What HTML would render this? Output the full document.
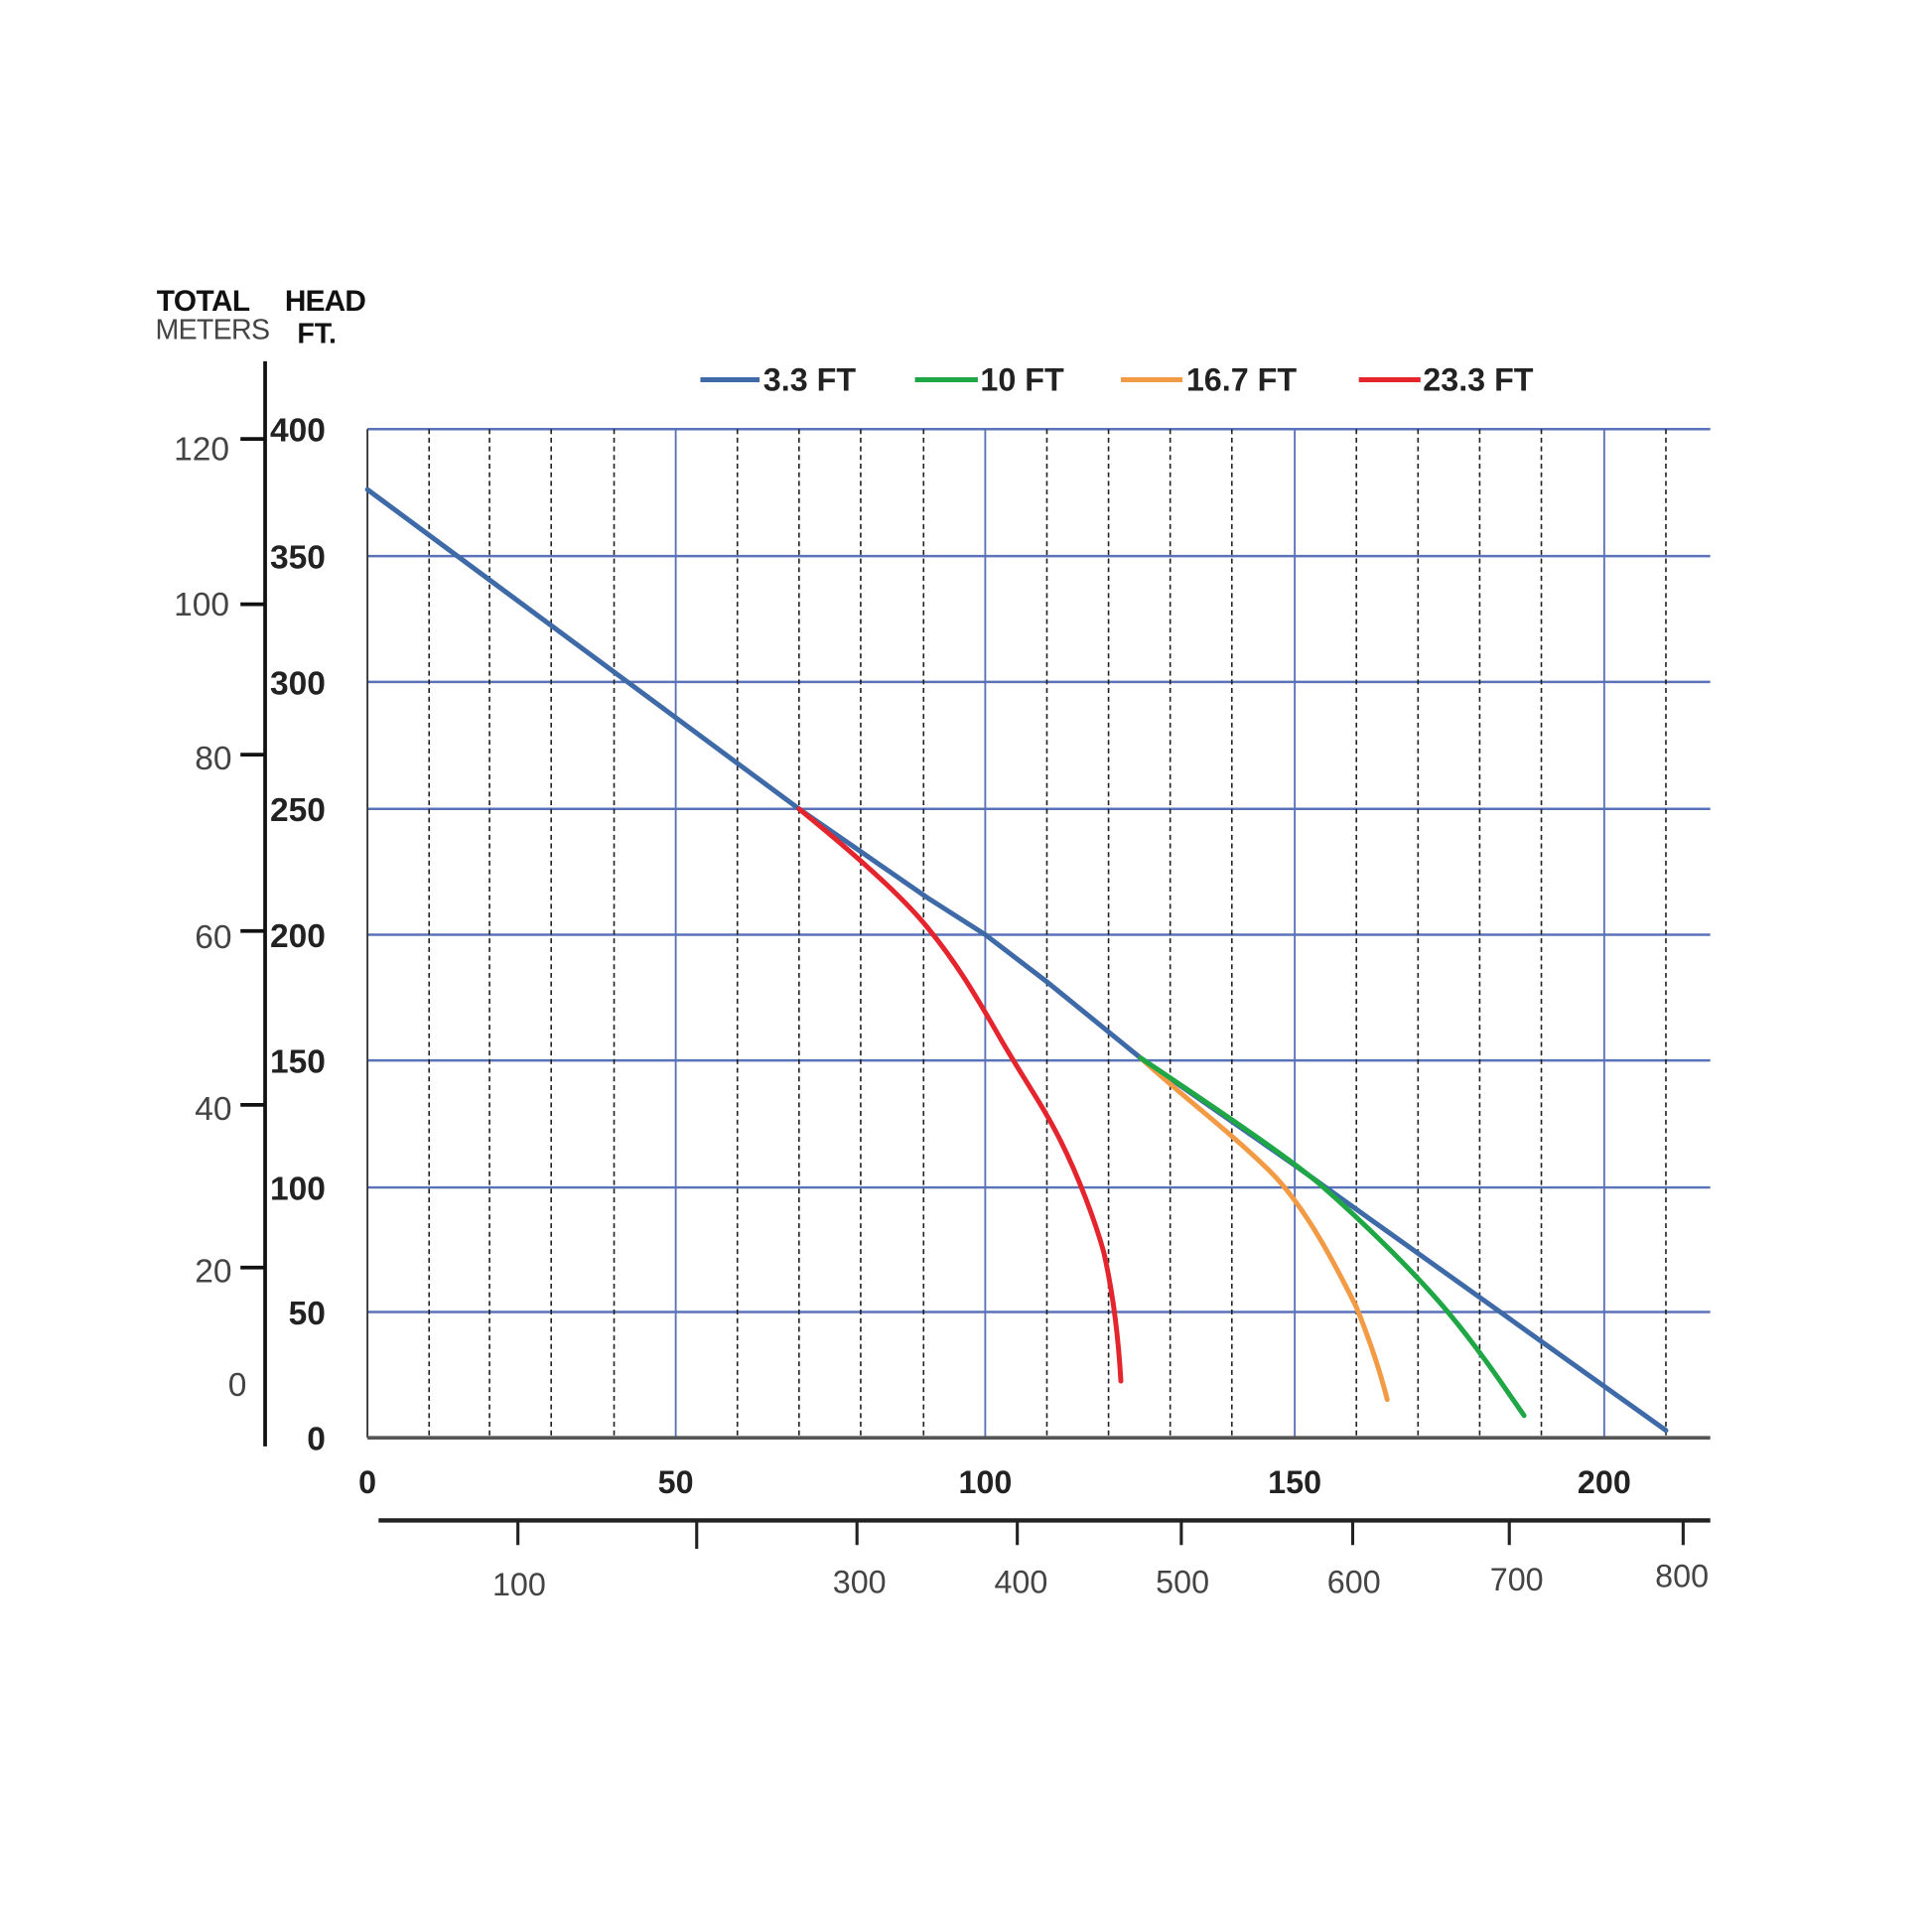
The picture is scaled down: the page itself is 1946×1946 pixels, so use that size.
<!DOCTYPE html>
<html><head><meta charset="utf-8"><style>
html,body{margin:0;padding:0;background:#fff;}
svg{display:block;}
text{font-family:"Liberation Sans Narrow","Liberation Sans",sans-serif;}
.b{font-family:"Liberation Sans",sans-serif;font-weight:bold;}
</style></head><body>
<svg width="1946" height="1946" viewBox="0 0 1566.8 1566.8" xmlns="http://www.w3.org/2000/svg">
<rect width="1566.8" height="1566.8" fill="#fff"/>
<text x="127" y="252" font-size="24" class="b" fill="#111" textLength="76">TOTAL</text>
<text x="231" y="252" font-size="24" class="b" fill="#111" textLength="66">HEAD</text>
<text x="126" y="275" font-size="23" fill="#444" textLength="93">METERS</text>
<text x="241" y="278" font-size="23" class="b" fill="#111">FT.</text>
<g font-size="26" fill="#222">
<line x1="568" y1="308" x2="616" y2="308" stroke="#3e6aa8" stroke-width="4"/><text x="619" y="317" class="b">3.3 FT</text>
<line x1="742" y1="308" x2="793" y2="308" stroke="#1fa645" stroke-width="4"/><text x="795" y="317" class="b">10 FT</text>
<line x1="909" y1="308" x2="959" y2="308" stroke="#f39a45" stroke-width="4"/><text x="962" y="317" class="b">16.7 FT</text>
<line x1="1102" y1="308" x2="1152" y2="308" stroke="#e4252d" stroke-width="4"/><text x="1154" y="317" class="b">23.3 FT</text>
</g>
<g stroke="#5a72b8" stroke-width="2">
<line x1="298" y1="348" x2="1387" y2="348"/>
<line x1="298" y1="451" x2="1387" y2="451"/>
<line x1="298" y1="553" x2="1387" y2="553"/>
<line x1="298" y1="656" x2="1387" y2="656"/>
<line x1="298" y1="758" x2="1387" y2="758"/>
<line x1="298" y1="860" x2="1387" y2="860"/>
<line x1="298" y1="963" x2="1387" y2="963"/>
<line x1="298" y1="1064" x2="1387" y2="1064"/>
</g>
<g stroke="#222" stroke-width="1.3" stroke-dasharray="4,3">
<line x1="348" y1="348" x2="348" y2="1166"/><line x1="397" y1="348" x2="397" y2="1166"/>
<line x1="447" y1="348" x2="447" y2="1166"/><line x1="498" y1="348" x2="498" y2="1166"/>
<line x1="598" y1="348" x2="598" y2="1166"/><line x1="648" y1="348" x2="648" y2="1166"/>
<line x1="698" y1="348" x2="698" y2="1166"/><line x1="749" y1="348" x2="749" y2="1166"/>
<line x1="849" y1="348" x2="849" y2="1166"/><line x1="899" y1="348" x2="899" y2="1166"/>
<line x1="949" y1="348" x2="949" y2="1166"/><line x1="999" y1="348" x2="999" y2="1166"/>
<line x1="1100" y1="348" x2="1100" y2="1166"/><line x1="1150" y1="348" x2="1150" y2="1166"/>
<line x1="1200" y1="348" x2="1200" y2="1166"/><line x1="1250" y1="348" x2="1250" y2="1166"/>
<line x1="1351" y1="348" x2="1351" y2="1166"/>
</g>
<g stroke="#5a72b8" stroke-width="1.5">
<line x1="548" y1="348" x2="548" y2="1166"/><line x1="799" y1="348" x2="799" y2="1166"/>
<line x1="1050" y1="348" x2="1050" y2="1166"/><line x1="1301" y1="348" x2="1301" y2="1166"/>
</g>
<line x1="298" y1="348" x2="298" y2="1166" stroke="#333" stroke-width="1.5"/>
<line x1="298" y1="1166" x2="1387" y2="1166" stroke="#555" stroke-width="3"/>
<g fill="none" stroke-width="4" stroke-linecap="round" stroke-linejoin="round">
<path d="M298,397 L648,656 L700,692 L752,728 L799,758 L850,797 L925,858 L1050,945 L1351,1160" stroke="#3e6aa8"/>
<path d="M648,656 C690,690 730,725 752,752 C775,780 790,805 810,840 C830,875 845,895 860,925 C875,955 888,990 895,1015 C903,1050 907,1085 909,1120" stroke="#e4252d"/>
<path d="M925,858 C960,890 1000,920 1030,950 C1060,980 1085,1030 1100,1060 C1112,1090 1120,1115 1125,1135" stroke="#f39a45"/>
<path d="M925,858 C980,895 1040,935 1070,960 C1110,995 1150,1035 1175,1065 C1200,1095 1220,1125 1236,1148" stroke="#1fa645"/>
</g>
<line x1="215" y1="293" x2="215" y2="1173" stroke="#111" stroke-width="3"/>
<g stroke="#111" stroke-width="3">
<line x1="195" y1="356" x2="215" y2="356"/><line x1="195" y1="490" x2="215" y2="490"/>
<line x1="195" y1="612" x2="215" y2="612"/><line x1="195" y1="755" x2="215" y2="755"/>
<line x1="195" y1="896" x2="215" y2="896"/><line x1="195" y1="1028" x2="215" y2="1028"/>
</g>
<g font-size="27" fill="#444" text-anchor="end">
<text x="186" y="373">120</text><text x="186" y="499">100</text>
<text x="188" y="624">80</text><text x="188" y="769">60</text>
<text x="188" y="908">40</text><text x="188" y="1040">20</text>
<text x="200" y="1132">0</text>
</g>
<g font-size="27" fill="#222" text-anchor="end">
<text x="264" y="358" class="b">400</text>
<text x="264" y="461" class="b">350</text>
<text x="264" y="563" class="b">300</text>
<text x="264" y="666" class="b">250</text>
<text x="264" y="768" class="b">200</text>
<text x="264" y="870" class="b">150</text>
<text x="264" y="973" class="b">100</text>
<text x="264" y="1074" class="b">50</text>
<text x="264" y="1176" class="b">0</text>
</g>
<g font-size="26" fill="#222" text-anchor="middle">
<text x="298" y="1211" class="b">0</text>
<text x="548" y="1211" class="b">50</text>
<text x="799" y="1211" class="b">100</text>
<text x="1050" y="1211" class="b">150</text>
<text x="1301" y="1211" class="b">200</text>
</g>
<line x1="307" y1="1233" x2="1387" y2="1233" stroke="#222" stroke-width="3.5"/>
<g stroke="#222" stroke-width="2.5">
<line x1="420" y1="1233" x2="420" y2="1253"/><line x1="565" y1="1233" x2="565" y2="1256"/>
<line x1="695" y1="1233" x2="695" y2="1253"/><line x1="825" y1="1233" x2="825" y2="1253"/>
<line x1="958" y1="1233" x2="958" y2="1253"/><line x1="1097" y1="1233" x2="1097" y2="1253"/>
<line x1="1224" y1="1233" x2="1224" y2="1253"/><line x1="1365" y1="1233" x2="1365" y2="1253"/>
</g>
<g font-size="26" fill="#444" text-anchor="middle">
<text x="421" y="1294">100</text><text x="697" y="1292">300</text>
<text x="828" y="1292">400</text><text x="959" y="1292">500</text>
<text x="1098" y="1292">600</text><text x="1230" y="1290">700</text>
<text x="1364" y="1287">800</text>
</g>
</svg>
</body></html>
